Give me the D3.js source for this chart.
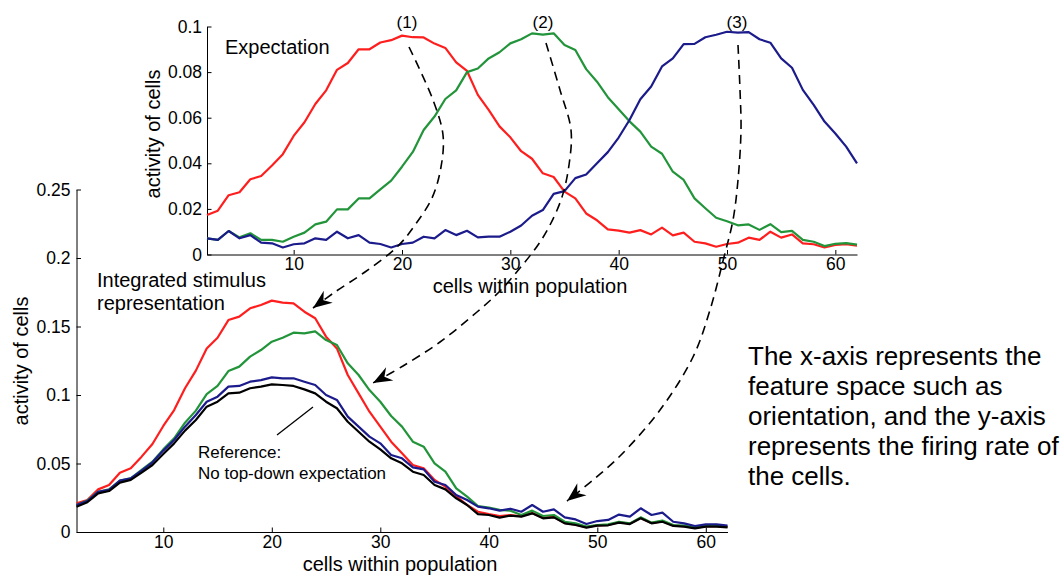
<!doctype html>
<html>
  <head>
    <meta charset="utf-8">
    <title>Expectation and integrated stimulus representation</title>
    <script src="https://cdnjs.cloudflare.com/ajax/libs/d3/7.8.5/d3.min.js"></script>
    <style>
      body { margin: 0; background: #fff; }
      svg { display: block; font-family: "Liberation Sans", Arial, Helvetica, sans-serif; }
      .axis path, .axis line { stroke: #000; stroke-width: 1; }
      .axis text { font-size: 17.5px; fill: #000; font-family: "Liberation Sans", Arial, sans-serif; }
    </style>
  </head>
  <body>
    <div id="chart"></div>

    <script>
      // cell index along the population (x)
      const cells = [2,3,4,5,6,7,8,9,10,11,12,13,14,15,16,17,18,19,20,21,22,23,24,25,26,27,28,29,30,31,32,
                     33,34,35,36,37,38,39,40,41,42,43,44,45,46,47,48,49,50,51,52,53,54,55,56,57,58,59,60,61,62];

      // top panel: expectation (1), (2), (3)
      const expRed = [0.0173,0.0192,0.026,0.0273,0.033,0.0344,0.039,0.044,0.052,0.058,0.066,0.072,0.081,0.084,0.090,0.090,
                      0.093,0.094,0.096,0.0953,0.0952,0.0925,0.0906,0.0843,0.0805,0.070,0.0634,0.0562,0.0514,0.0453,0.042,
                      0.0356,0.034,0.0276,0.0246,0.018,0.015,0.011,0.0105,0.0096,0.0107,0.0088,0.0118,0.0084,0.0096,0.0056,
                      0.0049,0.0034,0.0046,0.0052,0.0074,0.0064,0.0100,0.0074,0.0088,0.0049,0.0045,0.0031,0.0042,0.0045,0.0039];
      const expGreen = [0.0071,0.0064,0.0103,0.0075,0.0093,0.0064,0.0064,0.0056,0.0078,0.0096,0.0132,0.0144,0.0198,0.0198,
                        0.0246,0.0246,0.0286,0.0324,0.0385,0.045,0.0546,0.0605,0.0682,0.072,0.080,0.0816,0.086,0.0887,0.0926,
                        0.0944,0.097,0.0964,0.097,0.0919,0.0897,0.0813,0.0758,0.069,0.0637,0.0584,0.0539,0.0473,0.0442,0.0363,
                        0.0327,0.0246,0.0203,0.0161,0.0146,0.0128,0.0132,0.0108,0.0133,0.0098,0.0104,0.0064,0.0056,0.0037,
                        0.0047,0.005,0.0043];
      const expBlue = [0.0071,0.0064,0.0103,0.0071,0.0085,0.0052,0.0049,0.0031,0.0045,0.0049,0.0071,0.0064,0.010,0.0071,
                       0.0085,0.0052,0.0046,0.0031,0.0046,0.0052,0.0078,0.0071,0.0107,0.0085,0.0104,0.0075,0.0078,0.0078,
                       0.010,0.0127,0.017,0.0195,0.0266,0.0278,0.0335,0.0351,0.040,0.0449,0.0513,0.059,0.0681,0.0737,0.0825,
                       0.086,0.0923,0.0924,0.0953,0.0964,0.0977,0.0973,0.0975,0.0944,0.0929,0.086,0.0819,0.0722,0.0656,
                       0.0583,0.0531,0.0473,0.040];

      // bottom panel: integrated stimulus representation
      const intRed = [0.0209,0.0234,0.0311,0.0343,0.0433,0.0465,0.055,0.0642,0.0774,0.089,0.1049,0.1178,0.134,0.1418,0.1547,
                      0.1572,0.1633,0.1657,0.1689,0.1674,0.1669,0.1608,0.156,0.1426,0.134,0.1146,0.1012,0.0878,0.0769,0.0659,
                      0.0574,0.0489,0.0465,0.038,0.0331,0.0263,0.0197,0.0148,0.0131,0.0117,0.0124,0.0115,0.0139,0.0103,0.011,
                      0.0066,0.0054,0.0035,0.0049,0.0052,0.0071,0.0061,0.0103,0.0066,0.0078,0.0047,0.0042,0.003,0.0042,
                      0.0042,0.0037];
      const intGreen = [0.0197,0.0229,0.0294,0.0311,0.0375,0.0392,0.0453,0.0513,0.0603,0.0684,0.0798,0.0886,0.1007,0.1066,
                        0.1175,0.1207,0.128,0.1328,0.1389,0.1418,0.1455,0.145,0.1465,0.1401,0.1365,0.1231,0.1146,0.1036,
                        0.0951,0.0847,0.0769,0.0659,0.0623,0.0501,0.044,0.0319,0.0258,0.019,0.0178,0.0161,0.0155,0.0124,
                        0.0156,0.0117,0.0124,0.0075,0.0063,0.0039,0.0051,0.0056,0.0075,0.0063,0.0107,0.0068,0.0083,0.0051,
                        0.0046,0.0034,0.0044,0.0044,0.0039];
      const intBlue = [0.0197,0.0226,0.0294,0.0307,0.0375,0.0392,0.0448,0.0509,0.0594,0.0672,0.0769,0.0854,0.0951,0.0988,
                       0.1061,0.1066,0.1097,0.1109,0.1129,0.1122,0.1122,0.1097,0.1073,0.100,0.0964,0.0842,0.0769,0.0696,
                       0.0647,0.0562,0.0538,0.0472,0.0457,0.0367,0.0343,0.027,0.0234,0.0185,0.0173,0.0156,0.017,0.0148,
                       0.0197,0.0148,0.0165,0.0107,0.0092,0.0058,0.008,0.0088,0.0127,0.0112,0.0173,0.0124,0.0141,0.0075,
                       0.0063,0.0044,0.0056,0.0056,0.0046];
      const intBlack = [0.0185,0.0217,0.0282,0.0299,0.036,0.038,0.0433,0.0489,0.0569,0.0647,0.074,0.0818,0.0915,0.0951,
                        0.1012,0.1017,0.1049,0.1061,0.1078,0.1073,0.1066,0.1041,0.1012,0.0951,0.0903,0.0805,0.0732,0.0659,
                        0.0603,0.0538,0.0501,0.044,0.0416,0.0343,0.0311,0.0246,0.0197,0.0131,0.0124,0.0105,0.012,0.0112,
                        0.0136,0.010,0.0107,0.0063,0.0051,0.0032,0.0046,0.0049,0.0068,0.0058,0.010,0.0063,0.0075,0.0044,
                        0.0039,0.0027,0.0039,0.0039,0.0034];

      const topTicksY = [0, 0.02, 0.04, 0.06, 0.08, 0.1];
      const botTicksY = [0, 0.05, 0.1, 0.15, 0.2, 0.25];
      const ticksX = [10, 20, 30, 40, 50, 60];

      const red = '#fe1e1e', green = '#22943a', blue = '#1b1b8c';

      const svg = d3.select('#chart')
        .append('svg')
        .attr('width', 1062)
        .attr('height', 578);

      // scales
      const xTop = d3.scaleLinear().domain([2, 62]).range([207, 857]);
      const yTop = d3.scaleLinear().domain([0, 0.1]).range([254.5, 26.5]);
      const xBot = d3.scaleLinear().domain([2, 62]).range([76.5, 727.5]);
      const yBot = d3.scaleLinear().domain([0, 0.25]).range([532, 189.5]);

      // ---- bottom panel ----
      svg.append('g').attr('class', 'axis')
        .attr('transform', 'translate(0,532)')
        .call(d3.axisBottom(xBot).tickValues(ticksX).tickSizeInner(-4.5).tickSizeOuter(0).tickPadding(4));
      svg.append('g').attr('class', 'axis')
        .attr('transform', 'translate(76.5,0)')
        .call(d3.axisLeft(yBot).tickValues(botTicksY).tickFormat(d3.format('')).tickSizeInner(-4.5).tickSizeOuter(0).tickPadding(6));

      const lineBot = d3.line().x((d, i) => xBot(cells[i])).y(d => yBot(d));
      [[intRed, red], [intGreen, green], [intBlue, blue], [intBlack, '#000']].forEach(s => {
        svg.append('path')
          .attr('d', lineBot(s[0]))
          .attr('fill', 'none')
          .attr('stroke', s[1])
          .attr('stroke-width', 2.2)
          .attr('stroke-linejoin', 'round');
      });

      // ---- top panel ----
      svg.append('g').attr('class', 'axis')
        .attr('transform', 'translate(0,254.5)')
        .call(d3.axisBottom(xTop).tickValues(ticksX).tickSizeInner(-4.5).tickSizeOuter(0).tickPadding(3.5));
      svg.append('g').attr('class', 'axis')
        .attr('transform', 'translate(207,0)')
        .call(d3.axisLeft(yTop).tickValues(topTicksY).tickFormat(d3.format('')).tickSizeInner(-4.5).tickSizeOuter(0).tickPadding(5));

      const lineTop = d3.line().x((d, i) => xTop(cells[i])).y(d => yTop(d));
      [[expRed, red], [expGreen, green], [expBlue, blue]].forEach(s => {
        svg.append('path')
          .attr('d', lineTop(s[0]))
          .attr('fill', 'none')
          .attr('stroke', s[1])
          .attr('stroke-width', 2.2)
          .attr('stroke-linejoin', 'round');
      });

      // axis titles
      svg.append('text').attr('x', 530).attr('y', 292.5).attr('text-anchor', 'middle')
        .style('font-size', '20px').text('cells within population');
      svg.append('text').attr('x', 400).attr('y', 571).attr('text-anchor', 'middle')
        .style('font-size', '20px').text('cells within population');
      svg.append('text').attr('transform', 'translate(160,134) rotate(-90)').attr('text-anchor', 'middle')
        .style('font-size', '20px').text('activity of cells');
      svg.append('text').attr('transform', 'translate(28,361) rotate(-90)').attr('text-anchor', 'middle')
        .style('font-size', '20px').text('activity of cells');

      // panel labels
      svg.append('text').attr('x', 225).attr('y', 54).style('font-size', '20px').text('Expectation');
      svg.append('text').attr('x', 97).attr('y', 287).style('font-size', '20px').text('Integrated stimulus');
      svg.append('text').attr('x', 97).attr('y', 310).style('font-size', '20px').text('representation');
      svg.append('text').attr('x', 198).attr('y', 458).style('font-size', '17px').text('Reference:');
      svg.append('text').attr('x', 198).attr('y', 479).style('font-size', '17px').text('No top-down expectation');
      svg.append('line').attr('x1', 277).attr('y1', 435).attr('x2', 313).attr('y2', 407)
        .attr('stroke', '#000').attr('stroke-width', 1.3);

      [['(1)', 407], ['(2)', 543], ['(3)', 737]].forEach(l => {
        svg.append('text').attr('x', l[1]).attr('y', 28).attr('text-anchor', 'middle')
          .style('font-size', '17px').text(l[0]);
      });

      // dashed arrows from each expectation to the integrated curves
      svg.append('defs').append('marker')
        .attr('id', 'head')
        .attr('viewBox', '-20 -8 21 16')
        .attr('refX', 0).attr('refY', 0)
        .attr('markerWidth', 21).attr('markerHeight', 16)
        .attr('markerUnits', 'userSpaceOnUse')
        .attr('orient', 'auto')
        .append('path')
        .attr('d', 'M0,0 L-19,-7.5 L-13,0 L-19,7.5 Z')
        .attr('fill', '#000');

      const arrows = [
        [[409,47],[433,100],[443,135],[441,167],[432,198],[415,225],[398,246],[365,272],[335,292],[313,308]],
        [[546,43],[560,90],[571,130],[569,165],[562,197],[550,225],[538,245],[520,268],[500,291],[477,312],[440,342],[403,366],[373,383]],
        [[738,45],[740,90],[741,130],[738,180],[733,220],[724,257],[710,310],[693,357],[660,410],[620,456],[593,480],[567,501]]
      ];
      const curve = d3.line().curve(d3.curveCatmullRom);
      arrows.forEach(a => {
        svg.append('path')
          .attr('d', curve(a))
          .attr('fill', 'none')
          .attr('stroke', '#000')
          .attr('stroke-width', 1.6)
          .attr('stroke-dasharray', '9,6')
          .attr('marker-end', 'url(#head)');
      });

      // side note
      const note = ['The x-axis represents the', 'feature space such as', 'orientation, and the y-axis',
                    'represents the firing rate of', 'the cells.'];
      svg.append('text')
        .attr('x', 748).attr('y', 365)
        .style('font-size', '26px')
        .selectAll('tspan')
        .data(note)
        .join('tspan')
        .attr('x', 748)
        .attr('dy', (d, i) => i == 0 ? 0 : 30)
        .text(d => d);
    </script>
  </body>
</html>
